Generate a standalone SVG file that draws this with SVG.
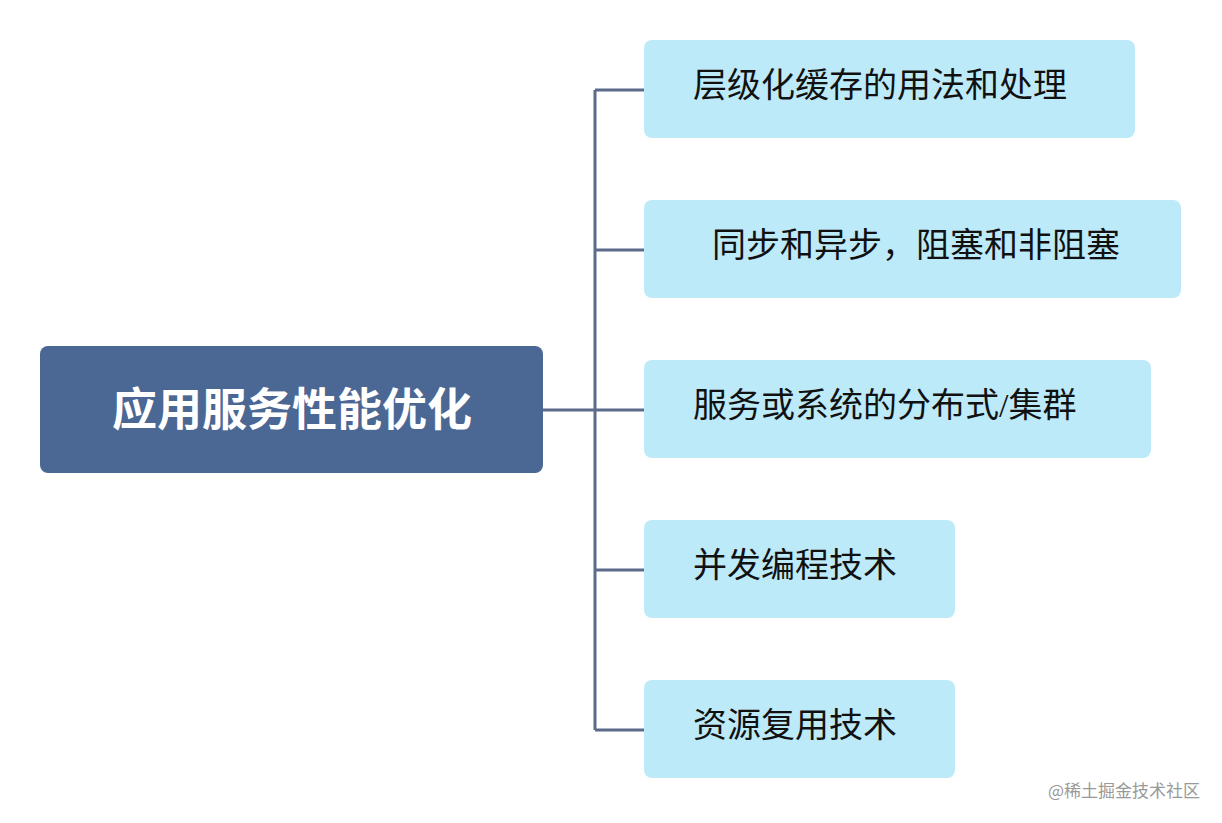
<svg xmlns="http://www.w3.org/2000/svg" width="1222" height="823" viewBox="0 0 1222 823">
<style>
.c{fill:#bdeaf9}
.t{font-family:"Liberation Serif","Noto Sans CJK SC",serif;font-size:34px;fill:#111}
.l{stroke:#5d6b8a;stroke-width:3;fill:none}
</style>
<rect width="1222" height="823" fill="#fff"/>
<g id="connectors">
<path class="l" d="M543 410H595M595 90V730M595 90H644M595 250H644M595 410H644M595 570H644M595 730H644"/>
</g>
<g id="root"><rect x="40" y="346" width="503" height="127" rx="8" fill="#4b6793"/>
<text x="292" y="426" text-anchor="middle" font-family="'Noto Sans CJK SC',sans-serif" font-weight="bold" font-size="45" fill="#fff">应用服务性能优化</text></g>
<g id="n1"><rect class="c" x="644" y="40" width="491" height="98" rx="8"/><text class="t" x="693" y="97">层级化缓存的用法和处理</text></g>
<g id="n2"><rect class="c" x="644" y="200" width="537" height="98" rx="8"/><text class="t" x="712" y="257">同步和异步，阻塞和非阻塞</text></g>
<g id="n3"><rect class="c" x="644" y="360" width="507" height="98" rx="8"/><text class="t" x="693" y="417">服务或系统的分布式/集群</text></g>
<g id="n4"><rect class="c" x="644" y="520" width="311" height="98" rx="8"/><text class="t" x="693" y="577">并发编程技术</text></g>
<g id="n5"><rect class="c" x="644" y="680" width="311" height="98" rx="8"/><text class="t" x="693" y="737">资源复用技术</text></g>
<text x="1200" y="797" text-anchor="end" font-family="'Noto Sans CJK SC',sans-serif" font-size="17" fill="#999">@稀土掘金技术社区</text>
</svg>
